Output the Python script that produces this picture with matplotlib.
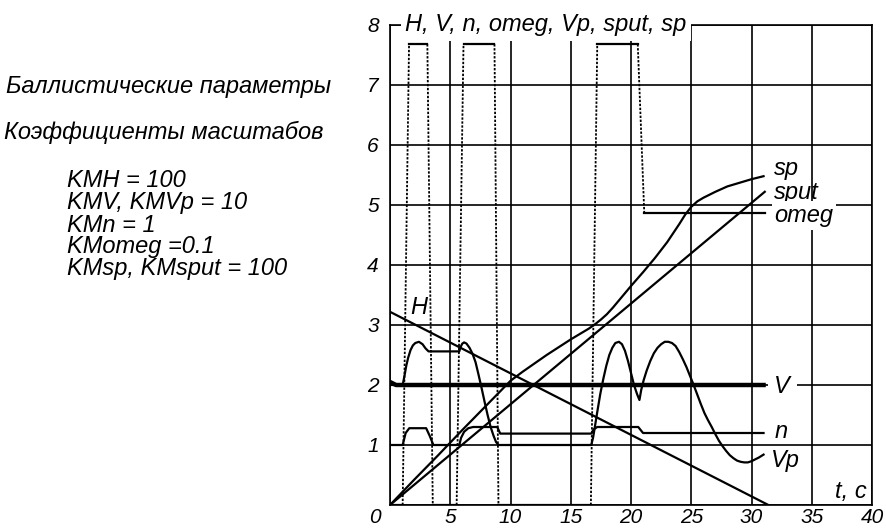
import matplotlib.pyplot as plt
import matplotlib.transforms as mtransforms

# данные
t_H = [0, 31.4]
H = [3.22, 0]

t_V = [0, 0.5, 31]
V = [2.05, 2.0, 2.0]

t_n = [0, 1.05, 1.3, 1.6, 3.0, 3.3, 3.6, 5.75, 5.9, 6.15, 6.5, 6.9, 8.9, 9.15,
       16.7, 16.9, 17.2, 20.6, 21.0, 31]
n = [1.0, 1.0, 1.2, 1.28, 1.28, 1.15, 1.0, 1.0, 1.12, 1.22, 1.28, 1.3, 1.3, 1.19,
     1.19, 1.26, 1.3, 1.3, 1.2, 1.2]

t_Vp = [0, 1.05, 1.2, 1.35, 1.5, 1.7, 1.9, 2.1, 2.4, 2.7, 2.95, 3.2, 5.75, 5.85,
        6.0, 6.15, 6.35, 6.6, 6.85, 7.1, 7.35, 7.6, 7.85, 8.1, 8.35, 8.6, 8.8, 9.0,
        16.7, 16.85, 17.0, 17.2, 17.45, 17.7, 17.95, 18.2, 18.45, 18.7, 19.0,
        19.25, 19.5, 19.75, 20.0, 20.25, 20.5, 20.7, 20.85, 21.05, 21.3, 21.6,
        21.9, 22.2, 22.5, 22.8, 23.1, 23.4, 23.7, 24.0, 24.3, 24.6, 24.9, 25.2,
        25.5, 25.8, 26.1, 26.4, 26.7, 27.0, 27.3, 27.6, 27.9, 28.2, 28.5, 28.8,
        29.1, 29.4, 29.7, 30.0, 30.3, 30.6, 31.0]
Vp = [2.0, 2.0, 2.15, 2.32, 2.45, 2.58, 2.66, 2.7, 2.72, 2.68, 2.61, 2.56, 2.56, 2.63,
      2.69, 2.71, 2.69, 2.62, 2.52, 2.38, 2.17, 1.95, 1.72, 1.5, 1.3, 1.15, 1.05, 1.0,
      1.0, 1.12, 1.3, 1.55, 1.85, 2.1, 2.32, 2.5, 2.62, 2.7, 2.72,
      2.68, 2.57, 2.4, 2.2, 2.0, 1.85, 1.75, 1.92, 2.08, 2.24, 2.4,
      2.53, 2.62, 2.68, 2.72, 2.72, 2.7, 2.65, 2.55, 2.43, 2.3, 2.15, 2.0,
      1.84, 1.68, 1.53, 1.41, 1.3, 1.18, 1.07, 0.98, 0.9, 0.83, 0.78, 0.74,
      0.72, 0.71, 0.71, 0.73, 0.76, 0.79, 0.84]

t_sp = [0, 2, 4, 6, 8, 10, 11, 12, 13, 14, 15, 16, 16.5, 17, 17.5, 18, 18.5, 19,
        19.5, 20, 21, 22, 23, 24, 24.5, 25, 25.5, 26, 27, 28, 29, 30, 31]
sp = [0, 0.42, 0.83, 1.25, 1.66, 2.07, 2.22, 2.36, 2.5, 2.63, 2.76, 2.88, 2.94, 3.01,
      3.09, 3.18, 3.29, 3.41, 3.53, 3.65, 3.88, 4.12, 4.38, 4.68, 4.84, 4.97, 5.06,
      5.12, 5.22, 5.31, 5.37, 5.43, 5.48]

t_sput = [0, 31.1]
sput = [0, 5.22]

t_omeg = [0, 1.05, 1.58, 3.1, 3.55, 5.53, 6.1, 8.67, 9.0, 16.67, 17.2, 20.56, 21.1, 31.1]
omeg = [0, 0, 7.68, 7.68, 0, 0, 7.68, 7.68, 0, 0, 7.68, 7.68, 4.87, 4.87]

x_ticks = [0, 5, 10, 15, 20, 25, 30, 35, 40]
y_ticks = [0, 1, 2, 3, 4, 5, 6, 7, 8]

km_lines = ["KMH = 100", "KMV, KMVp = 10", "KMn = 1", "KMomeg =0.1",
            "KMsp, KMsput = 100"]

plt.rcParams['font.family'] = ['Liberation Sans', 'DejaVu Sans']
plt.rcParams['font.style'] = 'italic'

fig = plt.figure(figsize=(8.86, 5.29), dpi=100)
ax = fig.add_axes([390 / 886, 24 / 529, 482 / 886, 480 / 529])

ax.set_xlim(0, 40)
ax.set_ylim(0, 8)
ax.set_xticks(x_ticks)
ax.set_yticks(y_ticks)
ax.set_xticklabels([str(v) for v in x_ticks], fontsize=15)
ax.set_yticklabels([''] + [str(v) for v in y_ticks[1:]], fontsize=15)
ax.tick_params(axis='x', length=0, pad=2)
ax.tick_params(axis='y', length=0, pad=8)
ax.grid(True, color='black', lw=1.2)
for s in ax.spines.values():
    s.set_linewidth(1.2)

# "0" сдвинут влево от оси
lbl0 = ax.get_xticklabels()[0]
lbl0.set_transform(mtransforms.offset_copy(lbl0.get_transform(), fig=fig, x=-15, y=0, units='dots'))

# кривые
ax.plot(t_H, H, color='black', lw=1.6, zorder=3)
ax.plot(t_V, V, color='black', lw=3.2, zorder=3)
ax.plot(t_n, n, color='black', lw=1.6, zorder=3)
ax.plot(t_Vp, Vp, color='black', lw=1.6, zorder=3)
ax.plot(t_sp, sp, color='black', lw=1.6, zorder=3)
ax.plot(t_sput, sput, color='black', lw=1.6, zorder=3)
for i in range(len(t_omeg) - 1):
    if omeg[i] == omeg[i + 1]:
        ax.plot(t_omeg[i:i + 2], omeg[i:i + 2], color='black', lw=1.6, zorder=3)
    else:
        ax.plot(t_omeg[i:i + 2], omeg[i:i + 2], color='black', lw=1.3,
                linestyle=(0, (1.3, 0.9)), zorder=3)

# подписи
white = dict(facecolor='white', edgecolor='none', pad=3)
ax.text(1.25, 8, "H, V, n, omeg, Vp, sput, sp", fontsize=17, va='center', ha='left',
        bbox=white, zorder=4, clip_on=False)
ax.text(1.7, 3.3, "H", fontsize=17, va='center', zorder=4)
ax.text(31.9, 5.6, "sp", fontsize=17, va='center', zorder=4)
ax.text(31.9, 5.2, "sput", fontsize=17, va='center', zorder=4)
ax.text(31.9, 4.83, "omeg", fontsize=17, va='center', zorder=4,
        bbox=dict(facecolor='white', edgecolor='none', pad=2))
ax.text(31.9, 1.97, "V", fontsize=17, va='center', zorder=4,
        bbox=dict(facecolor='white', edgecolor='none', pad=5))
ax.text(31.9, 1.22, "n", fontsize=17, va='center', zorder=4)
ax.text(31.6, 0.75, "Vp", fontsize=17, va='center', zorder=4)
ax.text(36.9, 0.22, "t, c", fontsize=17, va='center', zorder=4)

fig.text(6 / 886, 1 - 87 / 529, "Баллистические параметры", fontsize=17, va='center')
fig.text(4 / 886, 1 - 132 / 529, "Коэффициенты масштабов", fontsize=17, va='center')
for i, line in enumerate(km_lines):
    fig.text(67 / 886, 1 - (181 + 22 * i) / 529, line, fontsize=17, va='center')

fig.savefig("out.png", dpi=100)
